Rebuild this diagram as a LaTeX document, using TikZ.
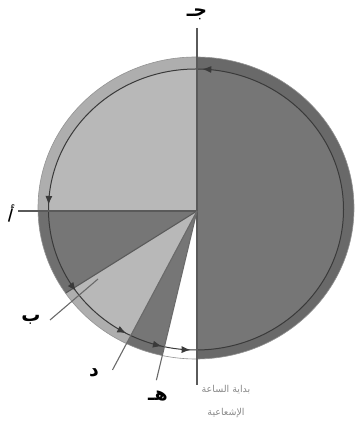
\documentclass[tikz,border=0pt]{standalone}
\usepackage{fontspec}
\newfontfamily\arabicfont[Script=Arabic]{DejaVu Sans}
\TeXXeTstate=1
\usetikzlibrary{decorations.markings,arrows.meta,calc}
\definecolor{darkfill}{HTML}{767676}
\definecolor{lightfill}{HTML}{B8B8B8}
\definecolor{ringline}{HTML}{3A3A3A}
\definecolor{axisline}{HTML}{5A5A5A}
\definecolor{pointer}{HTML}{6A6A6A}
\definecolor{captiongray}{HTML}{8A8A8A}
\begin{document}
\begin{tikzpicture}[x=1pt,y=1pt,
  letter/.style={font=\arabicfont\bfseries\fontsize{19}{19}\selectfont, text=black, inner sep=0pt},
  caption/.style={font=\arabicfont\fontsize{9.5}{10}\selectfont, text=captiongray, inner sep=0pt},
  axis/.style={draw=axisline, line width=1.8pt},
  edgeline/.style={draw=pointer, line width=1.1pt},
]
\useasboundingbox (0,0) rectangle (356,425);
\coordinate (C) at (197,214);
\coordinate (O) at (196,217);
\coordinate (I) at (196,215.5);
% sectors
\begin{scope}
\clip (O) ellipse [x radius=158, y radius=151];
\fill[darkfill] (C) -- ++(-90:400) arc[start angle=-90,end angle=90,radius=400] -- cycle;
\fill[lightfill] (C) -- ++(90:400) arc[start angle=90,end angle=180,radius=400] -- cycle;
\fill[darkfill] (C) -- ++(180:400) arc[start angle=180,end angle=212,radius=400] -- cycle;
\fill[lightfill] (C) -- ++(212:400) arc[start angle=212,end angle=242,radius=400] -- cycle;
\fill[darkfill] (C) -- ++(242:400) arc[start angle=242,end angle=256.5,radius=400] -- cycle;
\fill[white] (C) -- ++(256.5:400) arc[start angle=256.5,end angle=270,radius=400] -- cycle;
\draw[edgeline, draw=axisline] (C) -- ++(212:200);
\end{scope}
% darker ring band: right half darker, the rest slightly
\begin{scope}
\clip (C) -- ++(-90:400) arc[start angle=-90,end angle=90,radius=400] -- cycle;
\fill[black,opacity=0.1,even odd rule] (O) ellipse [x radius=158, y radius=151] (I) ellipse [x radius=147.5, y radius=140.5];
\end{scope}
\begin{scope}
\clip (C) -- ++(90:400) arc[start angle=90,end angle=256.5,radius=400] -- cycle;
\fill[black,opacity=0.05,even odd rule] (O) ellipse [x radius=158, y radius=151] (I) ellipse [x radius=147.5, y radius=140.5];
\end{scope}
\draw[gray!85, line width=0.6pt] (O) ellipse [x radius=158, y radius=151];
% inner circle with arrows
\draw[ringline, line width=1pt, postaction={decorate}, decoration={markings,
  mark=at position 0.243 with {\arrow{Latex[length=9pt,width=7pt]}},
  mark=at position 0.495 with {\arrow{Latex[length=9pt,width=7pt]}},
  mark=at position 0.597 with {\arrow{Latex[length=9pt,width=7pt]}},
  mark=at position 0.670 with {\arrow{Latex[length=9pt,width=7pt]}},
  mark=at position 0.712 with {\arrow{Latex[length=9pt,width=7pt]}},
  mark=at position 0.744 with {\arrow{Latex[length=9pt,width=7pt]}}}]
  (I) ellipse [x radius=147.5, y radius=140.5];
% axes and pointer lines
\coordinate (top) at (197,397);
\coordinate (bottom) at (197,40);
\coordinate (left) at (18,214);
\draw[axis] (top) -- (bottom);
\draw[axis, line width=1.4pt] (left) -- (C);
\coordinate (dEnd) at ($(C)+(242:180)$);
\coordinate (hEnd) at ($(C)+(256.5:174)$);
\coordinate (bStart) at (50,105);
\coordinate (bEnd) at (98,146);
\draw[edgeline] (C) -- (dEnd);
\draw[edgeline] (C) -- (hEnd);
\draw[edgeline] (bStart) -- (bEnd);
% labels
\node[letter] (lJ) at (197,411) {\beginR جـ\endR};
\node[letter, font=\arabicfont\fontsize{18}{18}\selectfont, rotate=-15] (lA) at (11,212) {\beginR أ\endR};
\node[letter] (lB) at (31,105) {\beginR ب\endR};
\node[letter] (lD) at (94,52) {\beginR د\endR};
\node[letter] (lH) at (158,29) {\beginR هـ\endR};
\node[caption] (cap1) at (226,35) {\beginR بداية الساعة\endR};
\node[caption] (cap2) at (226,12) {\beginR الإشعاعية\endR};
\end{tikzpicture}
\end{document}
